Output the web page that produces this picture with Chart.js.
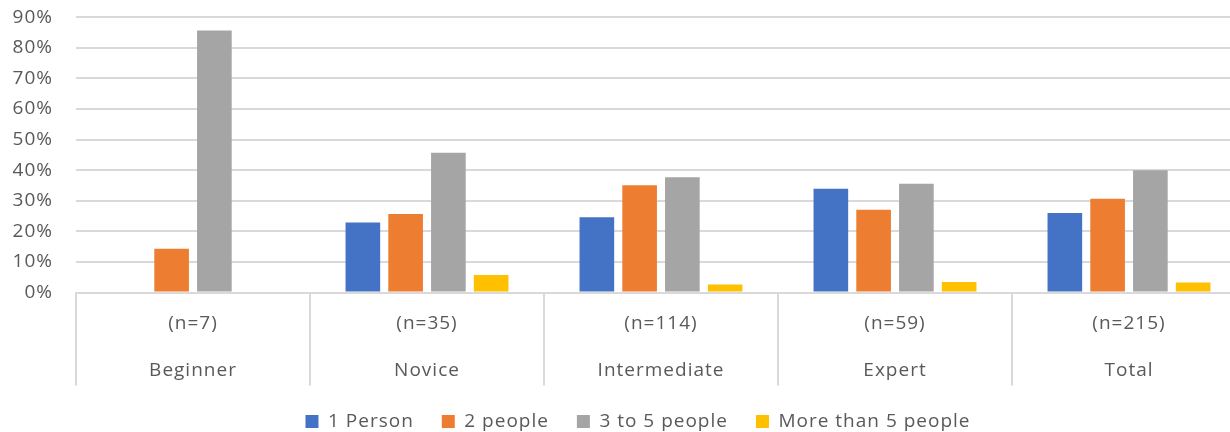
<!DOCTYPE html>
<html>
<head>
<meta charset="utf-8">
<script src="https://cdn.jsdelivr.net/npm/chart.js@4.4.1/dist/chart.umd.min.js"></script>
<style>
  html, body { margin: 0; padding: 0; background: #ffffff; overflow: hidden; }
  #wrap { width: 1230px; height: 432px; overflow: hidden; }
  canvas { display: block; }
</style>
</head>
<body>
<div id="wrap"><canvas id="chart" width="1276" height="441"></canvas></div>
<script>
// Experience levels and their respondent counts
const levels = ['Beginner', 'Novice', 'Intermediate', 'Expert', 'Total'];
const sampleSizes = ['(n=7)', '(n=35)', '(n=114)', '(n=59)', '(n=215)'];

// Share of respondents (%) per group size
const onePerson    = [0, 22.9, 24.6, 33.9, 26.0];
const twoPeople    = [14.3, 25.7, 35.1, 27.1, 30.7];
const threeToFive  = [85.7, 45.7, 37.7, 35.6, 40.0];
const moreThanFive = [0, 5.7, 2.6, 3.4, 3.3];

const seriesNames = ['1 Person', '2 people', '3 to 5 people', 'More than 5 people'];
const seriesColors = ['#4472C4', '#ED7D31', '#A5A5A5', '#FFC000'];
const seriesValues = [onePerson, twoPeople, threeToFive, moreThanFive];

const yTicks = [0, 10, 20, 30, 40, 50, 60, 70, 80, 90];

const textColor = '#595959';
const lineColor = '#d9d9d9';
const baseFont = { family: '"Open Sans", "Liberation Sans", sans-serif', size: 19 };

// Slightly open tracking for all chart text
const textTracking = {
  id: 'textTracking',
  beforeUpdate(chart) { chart.ctx.letterSpacing = '1px'; },
  beforeDraw(chart) { chart.ctx.letterSpacing = '1px'; }
};

// Vertical dividers between category groups, reaching down through both label rows
const groupDividers = {
  id: 'groupDividers',
  afterDraw(chart) {
    const x = chart.scales.x;
    const { ctx, chartArea } = chart;
    const half = (x.getPixelForValue(1) - x.getPixelForValue(0)) / 2;
    ctx.save();
    ctx.strokeStyle = lineColor;
    ctx.lineWidth = 2;
    ctx.beginPath();
    for (let i = 0; i <= levels.length; i++) {
      const px = x.getPixelForValue(0) - half + i * 2 * half;
      ctx.moveTo(px, chartArea.bottom);
      ctx.lineTo(px, chartArea.bottom + 93);
    }
    ctx.stroke();
    ctx.restore();
  }
};

new Chart(document.getElementById('chart'), {
  type: 'bar',
  data: {
    labels: levels.map((name, i) => [sampleSizes[i], name]),
    datasets: seriesValues.map((vals, i) => ({
      label: seriesNames[i],
      data: vals,
      backgroundColor: seriesColors[i],
      borderWidth: 0,
      categoryPercentage: 0.731,
      barPercentage: 0.81
    }))
  },
  options: {
    responsive: false,
    animation: false,
    layout: { padding: { top: 17.3, right: 0, bottom: 0, left: 0 } },
    plugins: {
      legend: {
        position: 'bottom',
        labels: {
          color: textColor,
          font: baseFont,
          boxWidth: 13,
          boxHeight: 13,
          padding: 28
        }
      },
      tooltip: { enabled: false }
    },
    scales: {
      x: {
        offset: true,
        afterFit(scale) { scale.height = 91.5; },
        grid: { display: true, drawOnChartArea: false, drawTicks: false },
        border: { display: true, color: lineColor, width: 2 },
        ticks: {
          color: textColor,
          font: Object.assign({}, baseFont, { lineHeight: 2.47 }),
          padding: 7.5,
          autoSkip: false,
          maxRotation: 0
        }
      },
      y: {
        min: 0,
        max: 90,
        afterBuildTicks(scale) { scale.ticks = yTicks.map(v => ({ value: v })); },
        afterFit(scale) { scale.width = 76; scale.paddingTop = 0; scale.paddingBottom = 0; },
        grid: { color: lineColor, lineWidth: 2, drawTicks: false },
        border: { display: false },
        ticks: {
          color: textColor,
          font: baseFont,
          padding: 23,
          autoSkip: false,
          callback: v => v + '%'
        }
      },
      // empty right-hand margin strip
      yRight: {
        position: 'right',
        display: true,
        afterFit(scale) { scale.width = 30; scale.paddingTop = 0; scale.paddingBottom = 0; },
        grid: { display: false },
        border: { display: false },
        ticks: { display: false }
      }
    }
  },
  plugins: [textTracking, groupDividers]
});
</script>
</body>
</html>
